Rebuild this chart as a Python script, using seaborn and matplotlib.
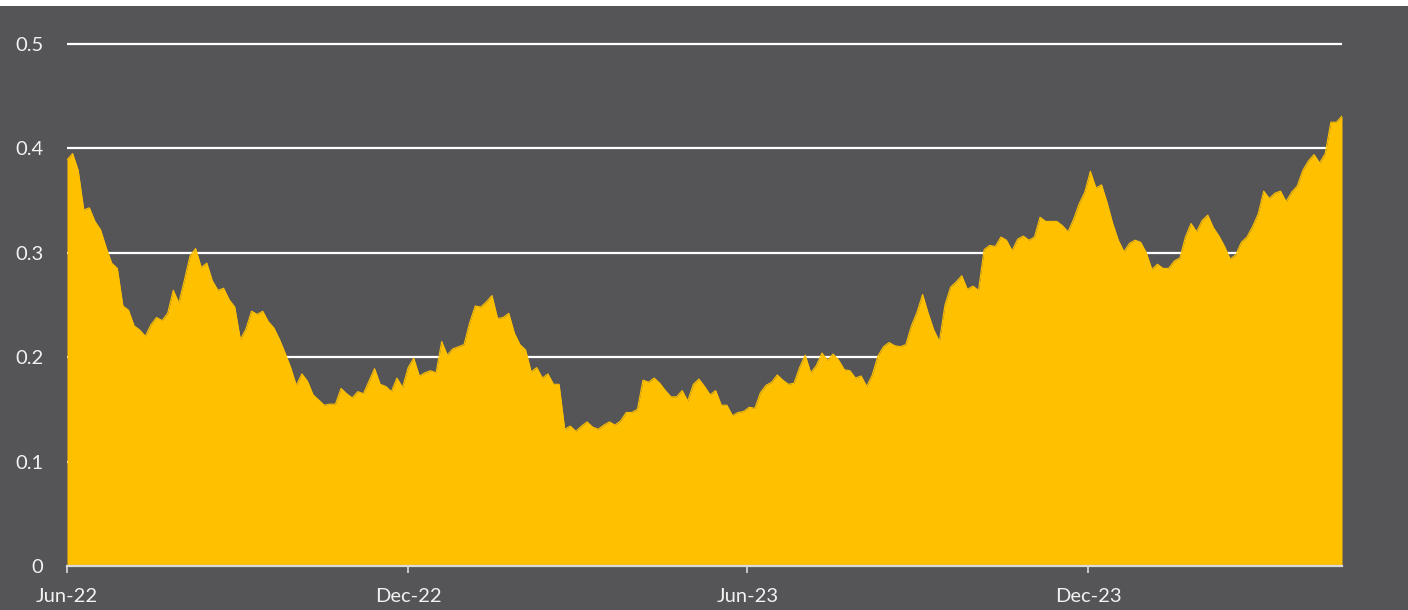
import numpy as np
import pandas as pd
import matplotlib
matplotlib.use("Agg")
import matplotlib.pyplot as plt
import matplotlib.dates as mdates
from matplotlib.patches import Rectangle
import seaborn as sns

# ---- data (3-day samples) ----
start_date = "2022-06-01"
step = "3D"
values = [
    0.389, 0.395, 0.379, 0.341, 0.343, 0.330, 0.322, 0.305, 0.290, 0.285,
    0.249, 0.245, 0.230, 0.226, 0.220, 0.231, 0.238, 0.235, 0.242, 0.264,
    0.252, 0.274, 0.297, 0.304, 0.286, 0.290, 0.273, 0.264, 0.266, 0.255,
    0.248, 0.217, 0.227, 0.244, 0.241, 0.244, 0.234, 0.228, 0.217, 0.204,
    0.190, 0.173, 0.184, 0.177, 0.164, 0.159, 0.154, 0.155, 0.155, 0.170,
    0.165, 0.161, 0.167, 0.165, 0.177, 0.189, 0.174, 0.172, 0.167, 0.180,
    0.171, 0.190, 0.199, 0.182, 0.185, 0.187, 0.185, 0.215, 0.202, 0.208,
    0.210, 0.212, 0.233, 0.249, 0.248, 0.253, 0.259, 0.237, 0.238, 0.242,
    0.223, 0.212, 0.207, 0.186, 0.190, 0.180, 0.184, 0.174, 0.174, 0.131,
    0.134, 0.129, 0.134, 0.138, 0.133, 0.131, 0.135, 0.138, 0.135, 0.139,
    0.147, 0.147, 0.150, 0.178, 0.176, 0.180, 0.175, 0.168, 0.162, 0.162,
    0.168, 0.158, 0.174, 0.179, 0.172, 0.164, 0.168, 0.154, 0.154, 0.144,
    0.147, 0.148, 0.152, 0.151, 0.166, 0.173, 0.176, 0.183, 0.178, 0.174,
    0.175, 0.190, 0.202, 0.185, 0.192, 0.204, 0.197, 0.203, 0.197, 0.188,
    0.187, 0.180, 0.182, 0.172, 0.183, 0.201, 0.210, 0.214, 0.211, 0.210,
    0.212, 0.230, 0.243, 0.260, 0.242, 0.226, 0.215, 0.250, 0.267, 0.272,
    0.278, 0.265, 0.268, 0.264, 0.303, 0.307, 0.306, 0.315, 0.312, 0.302,
    0.313, 0.316, 0.312, 0.315, 0.334, 0.330, 0.330, 0.330, 0.326, 0.320,
    0.332, 0.347, 0.358, 0.378, 0.362, 0.365, 0.348, 0.328, 0.312, 0.301,
    0.309, 0.312, 0.310, 0.300, 0.284, 0.289, 0.285, 0.285, 0.292, 0.295,
    0.315, 0.328, 0.320, 0.331, 0.336, 0.324, 0.316, 0.306, 0.294, 0.298,
    0.310, 0.315, 0.325, 0.337, 0.359, 0.352, 0.357, 0.359, 0.349, 0.358,
    0.364, 0.379, 0.388, 0.394, 0.386, 0.395, 0.425, 0.425, 0.431,
]
tick_dates = ["2022-06-01", "2022-12-01", "2023-06-01", "2023-12-01"]
tick_labels = ["Jun-22", "Dec-22", "Jun-23", "Dec-23"]
y_ticks = [0, 0.1, 0.2, 0.3, 0.4, 0.5]
y_labels = ["0", "0.1", "0.2", "0.3", "0.4", "0.5"]

dates = pd.date_range(start_date, periods=len(values), freq=step)
df = pd.DataFrame({"date": dates, "value": values})

# ---- style ----
BG = "#555557"
YELLOW = "#FFC000"
TXT = "#F2F2F2"
AXIS = "#D9D9D9"

sns.set_theme(style="dark")
plt.rcParams["font.family"] = ["Lato", "DejaVu Sans"]

fig = plt.figure(figsize=(14.08, 6.10), dpi=100, facecolor=BG)
ax = fig.add_axes([67 / 1408, 44 / 610, (1342 - 67) / 1408, (566 - 23) / 610])
ax.set_facecolor(BG)

ax.fill_between(df["date"], 0, df["value"], color=YELLOW, linewidth=0, zorder=3)
sns.lineplot(data=df, x="date", y="value", ax=ax, color=YELLOW, linewidth=0.8, zorder=4)

ax.set_xlim(dates[0], dates[-1])
ax.set_ylim(0, 0.52)

ax.set_yticks(y_ticks)
ax.set_yticklabels(y_labels)
ax.set_xticks(pd.to_datetime(tick_dates))
ax.set_xticklabels(tick_labels)

ax.grid(False)
for yv in y_ticks[1:]:
    ax.axhline(yv, color="white", linewidth=1.6, zorder=1)

for s in ["left", "right", "top"]:
    ax.spines[s].set_visible(False)
ax.spines["bottom"].set_color(AXIS)
ax.spines["bottom"].set_linewidth(1.6)
ax.spines["bottom"].set_zorder(5)

ax.tick_params(axis="y", length=0, pad=17, labelsize=14.5, labelcolor=TXT)
ax.tick_params(axis="x", length=5, width=1.2, color=AXIS, pad=11,
               labelsize=14.5, labelcolor=TXT, bottom=True)
ax.set_xlabel("")
ax.set_ylabel("")

fig.patches.append(Rectangle((0, 1 - 6 / 610), 1, 6 / 610, transform=fig.transFigure,
                             facecolor="white", edgecolor="none", zorder=10))

fig.savefig("out.png", dpi=100, facecolor=BG)
